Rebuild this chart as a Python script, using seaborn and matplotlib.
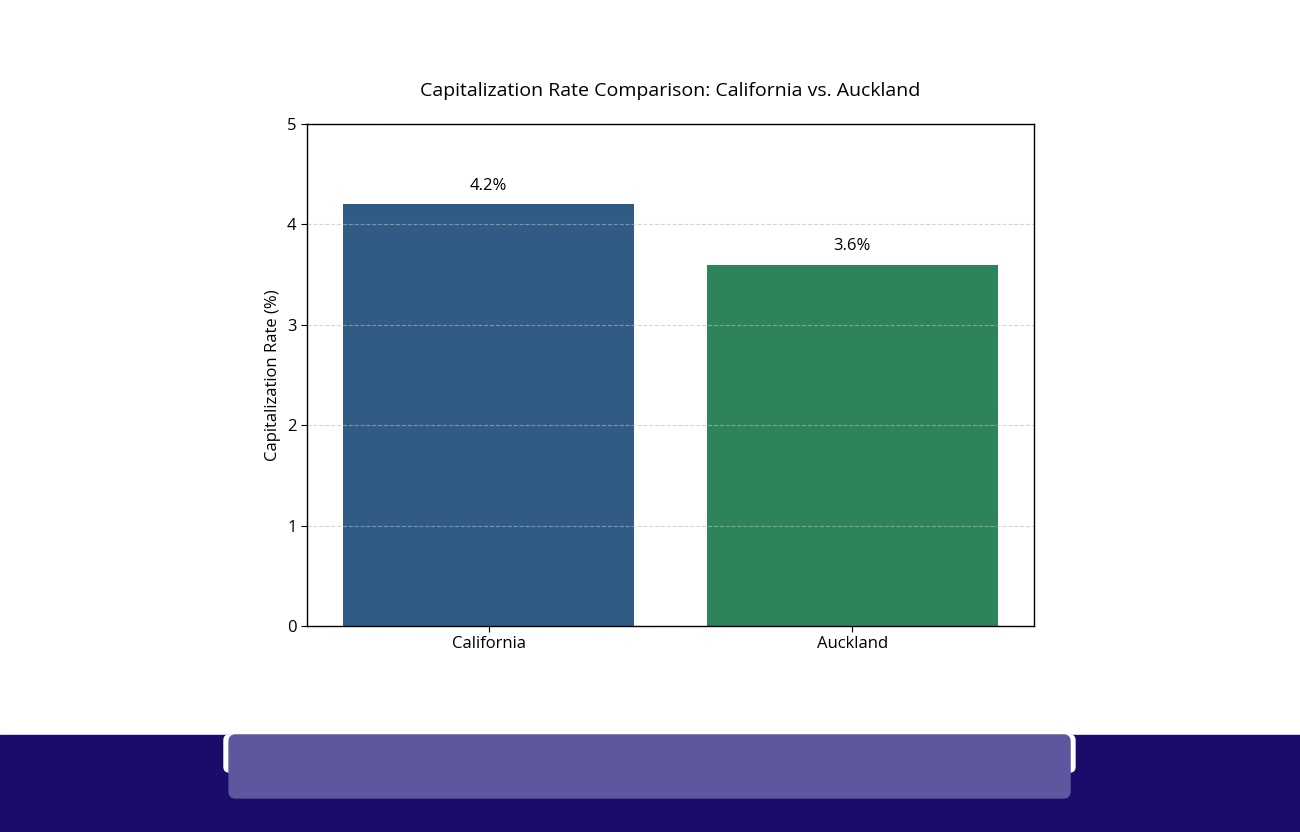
import matplotlib
matplotlib.use("Agg")
import pandas as pd
import seaborn as sns
from matplotlib import pyplot as plt
from matplotlib.patches import Rectangle, FancyBboxPatch

regions = ["California", "Auckland"]
cap_rates = [4.2, 3.6]
bar_colors = ["#2f5b84", "#2e845a"]

df = pd.DataFrame({"Region": regions, "Cap Rate": cap_rates})

sns.set_style("white")
plt.rcParams["font.family"] = ["Open Sans", "DejaVu Sans"]
plt.rcParams["text.color"] = "black"
plt.rcParams["axes.labelcolor"] = "black"
plt.rcParams["xtick.color"] = "black"
plt.rcParams["ytick.color"] = "black"

fig = plt.figure(figsize=(13, 8.32), dpi=100)
ax = fig.add_axes([0.2362, 0.2476, 0.5592, 0.6034])

sns.barplot(x="Region", y="Cap Rate", hue="Region", data=df, palette=bar_colors,
            legend=False, width=0.8, saturation=1, linewidth=0, ax=ax)

for i, v in enumerate(cap_rates):
    ax.text(i, v + 0.1, f"{v}%", ha="center", va="bottom", fontsize=12)

ax.set_ylim(0, 5)
ax.set_title("Capitalization Rate Comparison: California vs. Auckland", fontsize=14, pad=20)
ax.set_ylabel("Capitalization Rate (%)", fontsize=12)
ax.set_xlabel("")
ax.tick_params(axis="both", labelsize=12, length=4, left=True, bottom=True)
ax.grid(axis="y", linestyle="--", alpha=0.6, color="#bbbbbb")
ax.set_axisbelow(False)
for s in ax.spines.values():
    s.set_color("black")
    s.set_linewidth(1)
    s.set_zorder(5)

# bottom band (screenshot decoration)
fig.patches.append(Rectangle((0, 0), 1, 0.1166, transform=fig.transFigure,
                             color="#1a0c6a", zorder=0))
fig.patches.append(FancyBboxPatch((0.1723, 0.0721), 0.6546, 0.0445,
                                  boxstyle="round,pad=0,rounding_size=0.004",
                                  mutation_aspect=1300 / 832,
                                  transform=fig.transFigure, color="white", zorder=1))
fig.patches.append(FancyBboxPatch((0.1762, 0.0409), 0.6469, 0.0757,
                                  boxstyle="round,pad=0,rounding_size=0.005",
                                  mutation_aspect=1300 / 832,
                                  transform=fig.transFigure, color="#5f56a0", zorder=2))

fig.savefig("out.png", dpi=100)
